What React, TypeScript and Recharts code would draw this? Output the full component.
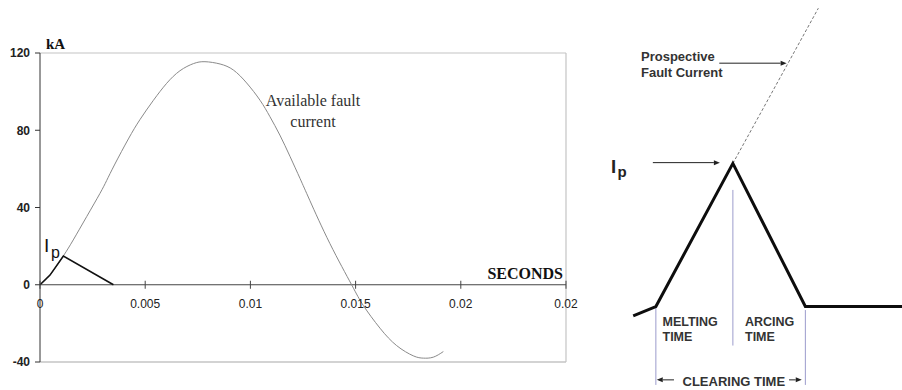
import React from 'react';
import { LineChart, Line, XAxis, YAxis, ReferenceLine } from 'recharts';

// ---------- Left chart: available fault current vs let-through ----------
const TIME_S = [0, 0.000475, 0.00111, 0.00158, 0.00222, 0.00285, 0.00317, 0.00356, 0.0042, 0.00475, 0.00539, 0.00602, 0.00665, 0.00729, 0.00784, 0.00856, 0.00919, 0.00982, 0.01046, 0.01093, 0.0114, 0.01188, 0.01236, 0.01283, 0.01378, 0.01481, 0.01537, 0.01616, 0.01695, 0.01774, 0.01822, 0.01869, 0.01917];
const AVAILABLE_KA = [0, 5, 14.9, 23.2, 35.3, 47.3, 54, 62.5, 75.5, 85.5, 95.5, 104.3, 110.8, 114.5, 115.5, 114.3, 111.2, 104.5, 95.5, 87, 77.5, 66.5, 55, 43.5, 21.3, 0, -10.8, -22.5, -31.5, -36.8, -38, -37.5, -34.6];
const LET_THROUGH_TIME_S = [0, 0.000475, 0.00111, 0.00349];
const LET_THROUGH_KA = [0, 5, 14.9, 0];
const X_TICKS = [0, 0.005, 0.01, 0.015, 0.02, 0.025];
const X_TICK_LABELS = ['0', '0.005', '0.01', '0.015', '0.02', '0.02'];
const Y_TICKS = [-40, 0, 40, 80, 120];
const Y_MIN = -40;
const Y_MAX = 120;

// ---------- Right diagram (arbitrary units 0..100) ----------
const FUSE_T = [11.0, 18.5, 44.0, 68.0, 100];
const FUSE_I = [19.0, 21.4, 58.1, 21.4, 21.4];
const PROSPECTIVE_T = [44.0, 72.3];
const PROSPECTIVE_I = [58.1, 97.9];
const MARKER_T = [18.5, 44.0, 68.0];
const MARKER_TOP = [21.4, 51.3, 20.5];
const MARKER_BOTTOM = [1.3, 11.4, 1.3];
// arrows: [fromT, fromI, toT, toI]
const ARROWS = [
  [17.5, 58.3, 39.7, 58.3],
  [39.5, 83.8, 61.8, 83.8],
  [24.5, 2.6, 18.8, 2.6],
  [62.6, 2.6, 66.8, 2.6],
];

const availableData = TIME_S.map((t, i) => ({ t, v: AVAILABLE_KA[i] }));
const letThroughData = LET_THROUGH_TIME_S.map((t, i) => ({ t, v: LET_THROUGH_KA[i] }));
const fuseData = FUSE_T.map((t, i) => ({ t, v: FUSE_I[i] }));
const prospectiveData = PROSPECTIVE_T.map((t, i) => ({ t, v: PROSPECTIVE_I[i] }));

const W1 = 600;
const H = 390;
const X_AXIS_H = 28;
const M1 = { top: 53, right: 34, bottom: 0, left: 0 };
const PLOT_H = H - M1.top - M1.bottom - X_AXIS_H;

const sans = 'Liberation Sans, Arial, sans-serif';
const serif = 'Liberation Serif, Times New Roman, serif';

const XTick = (props: any) => {
  const { x, y, payload } = props;
  const zeroY = Number(y) - (PLOT_H * (0 - Y_MIN)) / (Y_MAX - Y_MIN);
  const idx = X_TICKS.indexOf(payload.value);
  return (
    <g>
      <line x1={x} x2={x} y1={zeroY - 4} y2={zeroY + 4} stroke="#444" strokeWidth={1} />
      <text x={x} y={zeroY + 23} textAnchor="middle" fontFamily={sans} fontSize={12} fill="#222">
        {idx >= 0 ? X_TICK_LABELS[idx] : ''}
      </text>
    </g>
  );
};

const ArrowShape = (props: any) => {
  const x1 = Number(props.x1), y1 = Number(props.y1), x2 = Number(props.x2), y2 = Number(props.y2);
  const dx = x2 - x1, dy = y2 - y1;
  const len = Math.hypot(dx, dy) || 1;
  const ux = dx / len, uy = dy / len;
  const hl = 6, hw = 2.5;
  const bx = x2 - ux * hl, by = y2 - uy * hl;
  const pts = `${x2},${y2} ${bx - uy * hw},${by + ux * hw} ${bx + uy * hw},${by - ux * hw}`;
  return (
    <g>
      <line x1={x1} y1={y1} x2={bx} y2={by} stroke="#222" strokeWidth={1} />
      <polygon points={pts} fill="#222" />
    </g>
  );
};

export default function App() {
  return (
    <div style={{ position: 'absolute', left: 0, top: 0, width: 902, height: 390, background: '#fff', overflow: 'hidden' }}>
      <div style={{ position: 'absolute', left: 0, top: 0 }}>
        <LineChart width={W1} height={H} margin={M1}>
          <XAxis
            dataKey="t"
            type="number"
            domain={[0, 0.025]}
            ticks={X_TICKS}
            interval={0}
            height={X_AXIS_H}
            axisLine={false}
            tickLine={false}
            tickSize={0}
            tickMargin={0}
            tick={<XTick />}
          />
          <YAxis
            type="number"
            domain={[Y_MIN, Y_MAX]}
            ticks={Y_TICKS}
            interval={0}
            width={40}
            axisLine={{ stroke: '#333' }}
            tickLine={{ stroke: '#333' }}
            tickSize={5}
            tickMargin={5}
            tick={{ fontFamily: sans, fontSize: 12, fontWeight: 'bold', fill: '#222' }}
          />
          <ReferenceLine y={120} stroke="#c4c4c4" strokeWidth={1.2} />
          <ReferenceLine y={-40} stroke="#c4c4c4" strokeWidth={1.5} />
          <ReferenceLine x={0.025} stroke="#c4c4c4" strokeWidth={1.2} />
          <ReferenceLine y={0} stroke="#444" strokeWidth={1} />
          <Line data={availableData} dataKey="v" type="natural" stroke="#8a8a8a" strokeWidth={1} dot={false} activeDot={false} isAnimationActive={false} />
          <Line data={letThroughData} dataKey="v" type="linear" stroke="#111" strokeWidth={1.6} dot={false} activeDot={false} isAnimationActive={false} />
        </LineChart>
      </div>
      <div style={{ position: 'absolute', left: 600, top: 0 }}>
        <LineChart width={302} height={H} margin={{ top: 0, right: 0, bottom: 0, left: 0 }}>
          <XAxis dataKey="t" type="number" domain={[0, 100]} hide />
          <YAxis type="number" domain={[0, 100]} hide />
          {MARKER_T.map((t, i) => (
            <ReferenceLine key={'m' + i} segment={[{ x: t, y: MARKER_TOP[i] }, { x: t, y: MARKER_BOTTOM[i] }]} stroke="#9c9ccc" strokeWidth={1} />
          ))}
          {ARROWS.map((a, i) => (
            <ReferenceLine key={'a' + i} segment={[{ x: a[0], y: a[1] }, { x: a[2], y: a[3] }]} shape={ArrowShape} />
          ))}
          <Line data={prospectiveData} dataKey="v" type="linear" stroke="#777" strokeWidth={1} strokeDasharray="3 2" dot={false} activeDot={false} isAnimationActive={false} />
          <Line data={fuseData} dataKey="v" type="linear" stroke="#0d0d0d" strokeWidth={3} dot={false} activeDot={false} isAnimationActive={false} />
        </LineChart>
      </div>
      <svg width={902} height={390} style={{ position: 'absolute', left: 0, top: 0, pointerEvents: 'none' }}>
        <text x={46} y={49} fontFamily={serif} fontWeight="bold" fontSize={15} fill="#111">kA</text>
        <text x={563} y={279} textAnchor="end" fontFamily={serif} fontWeight="bold" fontSize={16} fill="#111">SECONDS</text>
        <text x={313} y={106} textAnchor="middle" fontFamily={serif} fontSize={16} fill="#333">Available fault</text>
        <text x={313} y={127} textAnchor="middle" fontFamily={serif} fontSize={16} fill="#333">current</text>
        <text x={44} y={252} fontFamily={sans} fontSize={19} fill="#111">I</text>
        <text x={51} y={258} fontFamily={sans} fontSize={16} fill="#111">p</text>

        <text x={641} y={60.5} fontFamily={sans} fontWeight="bold" fontSize={13} fill="#333">Prospective</text>
        <text x={641} y={76.5} fontFamily={sans} fontWeight="bold" fontSize={13} fill="#333">Fault Current</text>
        <text x={611} y={173.3} fontFamily={sans} fontWeight="bold" fontSize={18.5} fill="#222">I</text>
        <text x={617.5} y={176.5} fontFamily={sans} fontWeight="bold" fontSize={15} fill="#222">p</text>
        <text x={662.5} y={325.5} fontFamily={sans} fontWeight="bold" fontSize={12.5} fill="#333">MELTING</text>
        <text x={662.5} y={341} fontFamily={sans} fontWeight="bold" fontSize={12.5} fill="#333">TIME</text>
        <text x={745} y={325.5} fontFamily={sans} fontWeight="bold" fontSize={12.5} fill="#333">ARCING</text>
        <text x={745} y={341} fontFamily={sans} fontWeight="bold" fontSize={12.5} fill="#333">TIME</text>
        <text x={682.5} y={385.5} fontFamily={sans} fontWeight="bold" fontSize={13} fill="#333">CLEARING TIME</text>
      </svg>
    </div>
  );
}
